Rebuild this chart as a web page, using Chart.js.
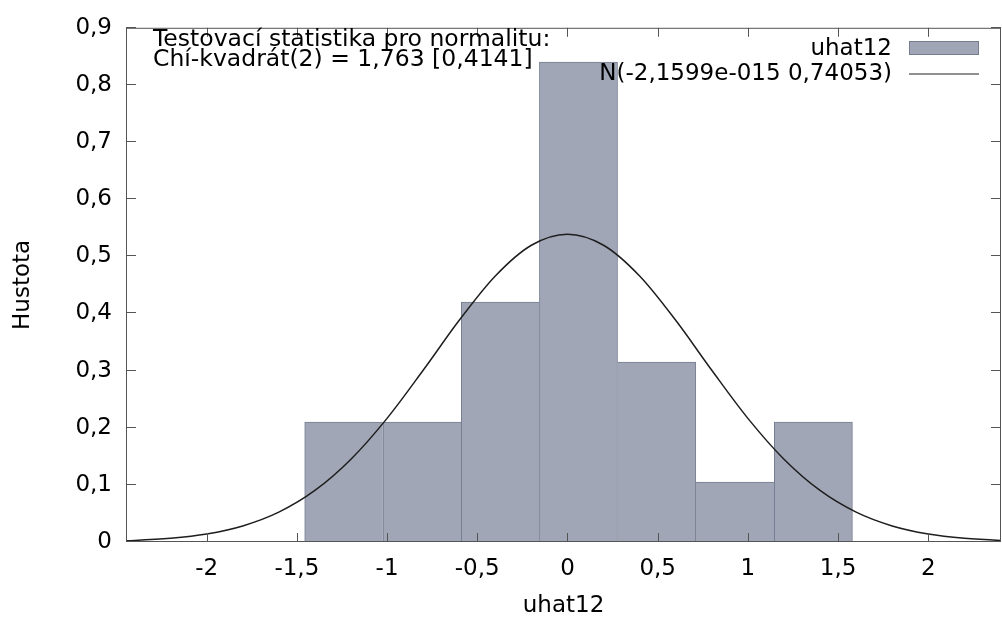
<!DOCTYPE html>
<html>
<head>
<meta charset="utf-8">
<script src="https://cdn.jsdelivr.net/npm/chart.js@4.4.1/dist/chart.umd.min.js"></script>
<style>
  html, body { margin: 0; padding: 0; background: #fff; }
</style>
</head>
<body>
<canvas id="histChart" width="1002" height="621"></canvas>
<script>
// ---------- DATA ----------
const binCenters = [-1.240, -0.806, -0.372, 0.061, 0.495, 0.929, 1.363];
const binDensity = [0.21, 0.21, 0.42, 0.84, 0.315, 0.105, 0.21];

// normal curve
const curveX = [-2.6, -2.4, -2.2, -2.0, -1.8, -1.6, -1.4, -1.2, -1.0, -0.8, -0.6, -0.4, -0.2, 0,
  0.2, 0.4, 0.6, 0.8, 1.0, 1.2, 1.4, 1.6, 1.8, 2.0, 2.2, 2.4, 2.6];
const curveY = [0.0011, 0.0028, 0.0065, 0.0140, 0.0281, 0.0522, 0.0902, 0.1449, 0.2164, 0.3005, 0.3880, 0.4656, 0.5194, 0.5387,
  0.5194, 0.4656, 0.3880, 0.3005, 0.2164, 0.1449, 0.0902, 0.0522, 0.0281, 0.0140, 0.0065, 0.0028, 0.0011];

const xTicks = [-2, -1.5, -1, -0.5, 0, 0.5, 1, 1.5, 2];
const yTicks = [0, 0.1, 0.2, 0.3, 0.4, 0.5, 0.6, 0.7, 0.8, 0.9];

const histLabel = "uhat12";
const curveLabel = "N(-2,1599e-015 0,74053)";
const testLines = ["Testovací statistika pro normalitu:", "Chí-kvadrát(2) = 1,763 [0,4141]"];

// ---------- STYLE ----------
const FONT = "'DejaVu Sans', sans-serif";
const FONT_SIZE = 23;
const BAR_FILL = "#a0a6b5";
const BAR_EDGE = "#767e92";
const FRAME = "#555";

function czNum(v) {
  return String(+v.toFixed(2)).replace(".", ",");
}

// only one border per shared bin edge
function barBorder(ctx) {
  const i = ctx.dataIndex;
  const h = binDensity[i];
  const prev = binDensity[i - 1];
  const next = binDensity[i + 1];
  return {
    top: 1,
    bottom: 0,
    left: i === 0 || prev <= h ? 1 : 0,
    right: i === binDensity.length - 1 || next < h ? 1 : 0,
  };
}

// gnuplot style frame with inward ticks on all four sides
const framePlugin = {
  id: "frame",
  afterDatasetsDraw(chart) {
    const { ctx, chartArea: a, scales } = chart;
    ctx.save();
    ctx.strokeStyle = FRAME;
    ctx.lineWidth = 1;
    ctx.strokeRect(a.left + 0.5, a.top + 0.5, a.right - a.left - 1, a.bottom - a.top - 1);
    ctx.beginPath();
    xTicks.forEach((v) => {
      const px = Math.round(scales.x.getPixelForValue(v)) + 0.5;
      ctx.moveTo(px, a.bottom);
      ctx.lineTo(px, a.bottom - 9);
      ctx.moveTo(px, a.top);
      ctx.lineTo(px, a.top + 9);
    });
    yTicks.forEach((v) => {
      const py = Math.round(scales.y.getPixelForValue(v)) - 0.5;
      ctx.moveTo(a.left, py);
      ctx.lineTo(a.left + 10, py);
      ctx.moveTo(a.right, py);
      ctx.lineTo(a.right - 10, py);
    });
    ctx.stroke();
    ctx.restore();
  },
  afterDraw(chart) {
    const { ctx } = chart;
    ctx.save();
    ctx.fillStyle = "#000";
    ctx.textBaseline = "alphabetic";

    // test statistic
    ctx.font = "23.5px " + FONT;
    ctx.textAlign = "left";
    testLines.forEach((t, i) => ctx.fillText(t, 153, 46 + i * 20));

    // legend
    ctx.font = FONT_SIZE + "px " + FONT;
    ctx.textAlign = "right";
    ctx.fillText(histLabel, 892, 55);
    ctx.fillText(curveLabel, 892, 80);
    ctx.fillStyle = BAR_FILL;
    ctx.fillRect(909, 41, 70, 14);
    ctx.strokeStyle = BAR_EDGE;
    ctx.strokeRect(909.5, 41.5, 69, 13);
    ctx.strokeStyle = "#222";
    ctx.lineWidth = 1.2;
    ctx.beginPath();
    ctx.moveTo(909, 74);
    ctx.lineTo(979, 74);
    ctx.stroke();
    ctx.restore();
  },
};

Chart.defaults.font.family = FONT;
Chart.defaults.font.size = FONT_SIZE;
Chart.defaults.color = "#000";

const ctx = document.getElementById("histChart").getContext("2d");

new Chart(ctx, {
  type: "bar",
  data: {
    datasets: [
      {
        type: "line",
        label: curveLabel,
        data: curveX.map((x, i) => ({ x, y: curveY[i] })),
        borderColor: "#1e1e1e",
        borderWidth: 1.5,
        pointRadius: 0,
        cubicInterpolationMode: "monotone",
        fill: false,
        order: 0,
      },
      {
        label: histLabel,
        data: binCenters.map((x, i) => ({ x, y: binDensity[i] })),
        backgroundColor: BAR_FILL,
        borderColor: BAR_EDGE,
        borderWidth: barBorder,
        borderSkipped: false,
        barPercentage: 1,
        categoryPercentage: 1,
        grouped: false,
        order: 1,
      },
    ],
  },
  options: {
    responsive: false,
    animation: false,
    layout: { padding: { top: 24, right: 1, left: 0, bottom: 0 } },
    plugins: {
      legend: { display: false },
      tooltip: { enabled: false },
    },
    scales: {
      x: {
        type: "linear",
        min: -2.447,
        max: 2.403,
        offset: false,
        grid: { display: false, drawTicks: false },
        border: { display: false },
        afterBuildTicks: (scale) => {
          scale.ticks = xTicks.map((v) => ({ value: v }));
        },
        afterFit: (scale) => {
          scale.height = 79;
        },
        ticks: {
          padding: 13,
          maxRotation: 0,
          autoSkip: false,
          callback: (value) => czNum(value),
        },
        title: {
          display: true,
          text: "uhat12",
          padding: { top: 0, bottom: 1 },
        },
      },
      y: {
        min: 0,
        max: 0.9,
        grid: { display: false, drawTicks: false },
        border: { display: false },
        afterBuildTicks: (scale) => {
          scale.ticks = yTicks.map((v) => ({ value: v }));
        },
        afterFit: (scale) => {
          scale.width = 126;
        },
        ticks: {
          padding: 14,
          autoSkip: false,
          callback: (value) => czNum(value),
        },
        title: {
          display: true,
          text: "Hustota",
          padding: { top: 9, bottom: 0 },
        },
      },
    },
  },
  plugins: [framePlugin],
});
</script>
</body>
</html>
